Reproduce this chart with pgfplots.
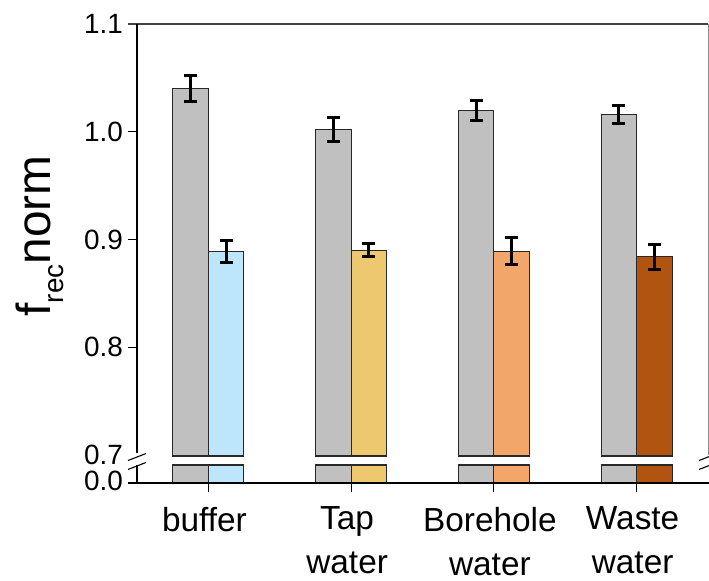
\documentclass[border=0pt]{standalone}
\usepackage{pgfplots}
\pgfplotsset{compat=1.18}
\usepackage{pgfplotstable}
\usepackage{fontspec}
\setmainfont{Liberation Sans}

\definecolor{ctrlgrey}{RGB}{192,192,192}
\definecolor{bufblue}{RGB}{189,229,251}
\definecolor{tapyellow}{RGB}{237,200,111}
\definecolor{boreorange}{RGB}{242,166,106}
\definecolor{wastebrown}{RGB}{176,84,15}
\definecolor{edge}{RGB}{40,40,40}

\tikzset{slash/.style={black, line width=1.1bp}}

% control (grey) bars
\pgfplotstableread{
x y err
0 1.040 0.0120
1 1.002 0.0110
2 1.020 0.0092
3 1.016 0.0088
}\ctrltable

% lower edge of the upper bar piece and upper edge of the stub below the break
\def\breakhi{0.6991}
\def\breaklo{0.6907}

\begin{document}
\begin{tikzpicture}
\path[use as bounding box] (0,0) rectangle (709bp,581bp);
\begin{axis}[
  at={(137bp,98bp)}, anchor=south west,
  scale only axis, width=571bp, height=459bp,
  xmin=-0.5, xmax=3.5, ymin=0.674, ymax=1.1,
  clip mode=individual,
  axis x line*=bottom, axis y line*=left,
  axis line style={draw=none},
  tick align=outside,
  major tick length=8.5bp,
  tick style={black, line width=1.2bp},
  xtick={0,1,2,3},
  xticklabels={buffer,{Tap\\water},{Borehole\\water},{Waste\\water}},
  xticklabel style={align=center, font=\fontsize{33.5}{44}\selectfont, yshift=-12bp, xshift=-4bp},
  ytick={0.8,0.9,1.0},
  yticklabels={0.8,0.9,1.0},
  extra y ticks={0.676,0.7,1.1},
  extra y tick labels={0.0,0.7,1.1},
  extra y tick style={major tick style={draw=none}},
  yticklabel style={font=\fontsize{28}{33}\selectfont, xshift=-2bp},
  bar width=35.5bp,
  % grey bars sit left of each category, coloured ones right of it
  left/.style={x filter/.expression={x-0.12434}},
  right/.style={x filter/.expression={x+0.12434}},
  barstyle/.style={ybar, bar shift=0pt, draw=edge, line width=1.2bp, forget plot},
  errstyle/.style={
    error bars/.cd, y dir=both, y explicit,
    error bar style={line width=3bp, black},
    error mark options={rotate=90, mark size=6.5bp, line width=3bp, black}},
]
% full bars
\addplot[barstyle, left, fill=ctrlgrey, errstyle]
  table[x=x, y=y, y error=err]{\ctrltable};
\addplot[barstyle, right, fill=bufblue, errstyle]
  coordinates {(0,0.889) +- (0,0.0105)};
\addplot[barstyle, right, fill=tapyellow, errstyle]
  coordinates {(1,0.890) +- (0,0.0060)};
\addplot[barstyle, right, fill=boreorange, errstyle]
  coordinates {(2,0.889) +- (0,0.0125)};
\addplot[barstyle, right, fill=wastebrown, errstyle]
  coordinates {(3,0.884) +- (0,0.0115)};

% bottom edge of the upper pieces
\addplot[barstyle, left, fill=ctrlgrey]
  coordinates {(0,\breakhi) (1,\breakhi) (2,\breakhi) (3,\breakhi)};
\addplot[barstyle, right, fill=bufblue] coordinates {(0,\breakhi)};
\addplot[barstyle, right, fill=tapyellow] coordinates {(1,\breakhi)};
\addplot[barstyle, right, fill=boreorange] coordinates {(2,\breakhi)};
\addplot[barstyle, right, fill=wastebrown] coordinates {(3,\breakhi)};

% the gap of the broken axis
\fill[white] (axis cs:-0.5,\breaklo) rectangle (axis cs:3.5,0.6985);

% stubs below the break
\addplot[barstyle, left, fill=ctrlgrey]
  coordinates {(0,\breaklo) (1,\breaklo) (2,\breaklo) (3,\breaklo)};
\addplot[barstyle, right, fill=bufblue] coordinates {(0,\breaklo)};
\addplot[barstyle, right, fill=tapyellow] coordinates {(1,\breaklo)};
\addplot[barstyle, right, fill=boreorange] coordinates {(2,\breaklo)};
\addplot[barstyle, right, fill=wastebrown] coordinates {(3,\breaklo)};

% frame lines
\draw[black!75, line width=1.8bp] ([xshift=-9bp]axis cs:-0.5,1.1) -- (axis cs:3.5,1.1);
\draw[black!45, line width=1bp] (axis cs:3.5,1.1) -- (axis cs:3.5,0.7);
\draw[black, line width=1.3bp] ([xshift=-9bp]axis cs:-0.5,0.674) -- ([xshift=2bp]axis cs:3.5,0.674);
\draw[black, line width=1.2bp] (axis cs:-0.5,1.1) -- (axis cs:-0.5,0.7015);
\draw[black, line width=1.2bp] (axis cs:-0.5,0.6905) -- (axis cs:-0.5,0.674);
% break marks
\draw[slash] ([shift={(-9bp,-3.5bp)}]axis cs:-0.5,0.6981) -- ([shift={(9bp,3.5bp)}]axis cs:-0.5,0.6981);
\draw[slash] ([shift={(-9bp,-3.5bp)}]axis cs:-0.5,0.6898) -- ([shift={(9bp,3.5bp)}]axis cs:-0.5,0.6898);
\draw[slash] ([shift={(-9bp,-3.5bp)}]axis cs:3.5,0.6981) -- ([shift={(9bp,3.5bp)}]axis cs:3.5,0.6981);
\draw[slash] ([shift={(-9bp,-3.5bp)}]axis cs:3.5,0.6898) -- ([shift={(9bp,3.5bp)}]axis cs:3.5,0.6898);
\end{axis}
\node[rotate=90, anchor=base, inner sep=0pt, font=\fontsize{48}{58}\selectfont]
  at (50bp,345bp) {f\raisebox{-13bp}{\fontsize{28}{34}\selectfont rec}norm};
\end{tikzpicture}
\end{document}
